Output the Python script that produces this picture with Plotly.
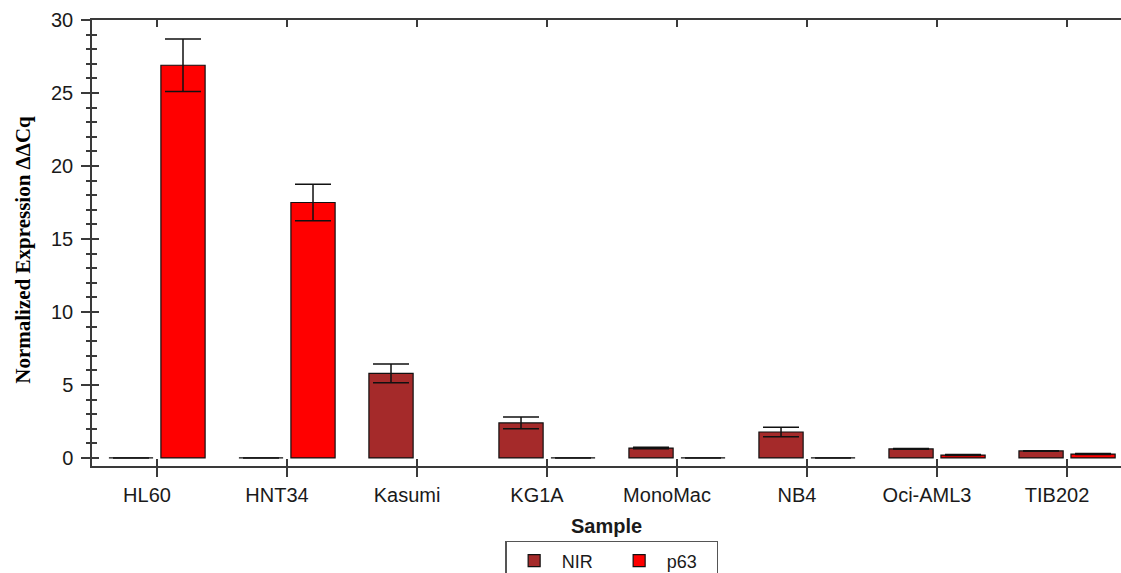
import plotly.graph_objects as go

# Samples and normalized expression (ΔΔCq) with standard error
samples = ["HL60", "HNT34", "Kasumi", "KG1A", "MonoMac", "NB4", "Oci-AML3", "TIB202"]
nir_values = [0, 0, 5.8, 2.4, 0.68, 1.78, 0.62, 0.48]
nir_errors = [None, None, 0.64, 0.4, 0.05, 0.33, 0.03, 0.02]
p63_values = [26.9, 17.5, None, 0, 0, 0, 0.2, 0.27]
p63_errors = [1.8, 1.25, None, None, None, None, 0.03, 0.03]

x_pos = list(range(len(samples)))
x_range = [-0.5, 7.415]
y_range = [-0.55, 30]

AXIS_COLOR = "#3a3a3a"
TEXT_COLOR = "#1a1a1a"
SANS = "Liberation Sans, Arial, sans-serif"

fig = go.Figure()

fig.add_trace(go.Bar(
    name="NIR", x=x_pos, y=nir_values,
    marker=dict(color="#A52A2A", line=dict(color="#111111", width=1.2)),
    error_y=dict(type="data", array=nir_errors, visible=True,
                 color="#111111", thickness=1.5, width=18),
))
fig.add_trace(go.Bar(
    name="p63", x=x_pos, y=p63_values,
    marker=dict(color="#FF0000", line=dict(color="#111111", width=1.2)),
    error_y=dict(type="data", array=p63_errors, visible=True,
                 color="#111111", thickness=1.5, width=18),
))

# empty trace that carries the overlay axes used for the inward tick marks
fig.add_trace(go.Scatter(x=[], y=[], xaxis="x2", yaxis="y2",
                         showlegend=False, hoverinfo="skip"))

fig.update_layout(
    width=1121, height=573,
    margin=dict(l=92, r=0, t=20, b=107, autoexpand=False),
    paper_bgcolor="white", plot_bgcolor="white",
    barmode="group", bargap=0.2, bargroupgap=0.15,
    font=dict(family=SANS, color=TEXT_COLOR),
    xaxis=dict(
        range=x_range, tickmode="array", tickvals=x_pos, ticktext=samples,
        ticks="outside", ticklen=9, tickwidth=1.5, tickcolor=AXIS_COLOR,
        showline=True, linecolor=AXIS_COLOR, linewidth=1.5, mirror=True,
        showgrid=False, zeroline=False, automargin=False,
        tickfont=dict(family=SANS, size=20, color=TEXT_COLOR),
        ticklabelshift=-10, ticklabelstandoff=1,
        title=dict(text="<b>Sample</b>", standoff=14,
                   font=dict(family=SANS, size=20, color=TEXT_COLOR)),
    ),
    xaxis2=dict(
        overlaying="x", anchor="y", side="bottom", range=x_range,
        tickmode="array", tickvals=x_pos, automargin=False,
        ticks="inside", ticklen=7, tickwidth=1.5, tickcolor=AXIS_COLOR,
        showline=True, linecolor=AXIS_COLOR, linewidth=1.5, mirror="ticks",
        showticklabels=False, showgrid=False, zeroline=False,
    ),
    yaxis=dict(
        range=y_range, tickmode="array", tickvals=[0, 5, 10, 15, 20, 25, 30],
        ticks="outside", ticklen=9, tickwidth=1.5, tickcolor=AXIS_COLOR,
        minor=dict(ticks="outside", ticklen=4, tickwidth=1.5,
                   tickcolor=AXIS_COLOR, dtick=1, tick0=0, showgrid=False),
        showline=True, linecolor=AXIS_COLOR, linewidth=1.5,
        showgrid=False, zeroline=False, automargin=False,
        tickfont=dict(family=SANS, size=20, color=TEXT_COLOR),
        ticklabelstandoff=4,
    ),
    yaxis2=dict(
        overlaying="y", anchor="x", side="left", range=y_range,
        tickmode="array", tickvals=[0, 5, 10, 15, 20, 25, 30],
        ticks="inside", ticklen=7, tickwidth=1.5, tickcolor=AXIS_COLOR,
        minor=dict(ticks="inside", ticklen=5, tickwidth=1.5,
                   tickcolor=AXIS_COLOR, dtick=1, tick0=0, showgrid=False),
        showline=False, showticklabels=False, showgrid=False, zeroline=False,
        automargin=False,
    ),
    legend=dict(
        orientation="h", x=0.505, xanchor="center", y=-0.168, yanchor="top",
        bordercolor="#555555", borderwidth=1.5, bgcolor="white",
        font=dict(family=SANS, size=18, color=TEXT_COLOR),
        itemwidth=45, entrywidth=45, entrywidthmode="pixels",
        traceorder="normal",
    ),
    annotations=[dict(
        text="<b>Normalized Expression ΔΔCq</b>",
        xref="paper", yref="paper", x=-(92 - 23) / 1029, y=0.485,
        xanchor="center", yanchor="middle", textangle=-90, showarrow=False,
        font=dict(family="Liberation Serif, Times New Roman, serif",
                  size=21, color="#000000"),
    )],
)

fig.write_html("out.html")
